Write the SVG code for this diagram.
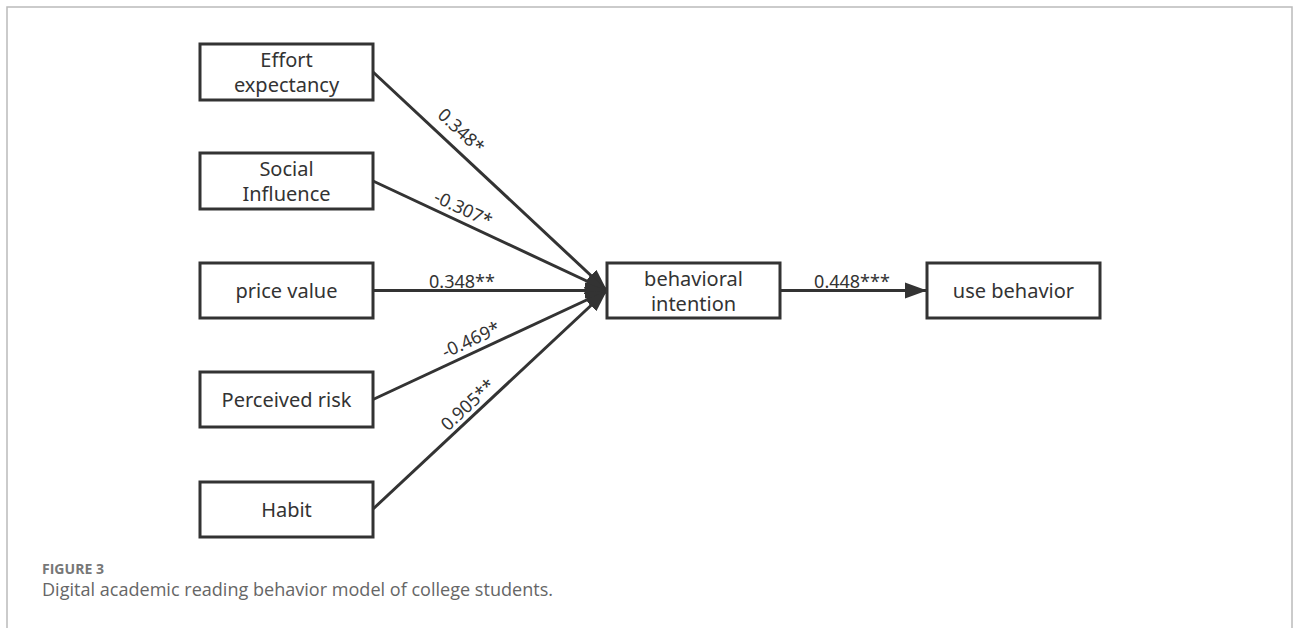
<svg xmlns="http://www.w3.org/2000/svg" width="1293" height="628" viewBox="0 0 1293 628">
<style>
.box{fill:#fff;stroke:#333;stroke-width:3}
.t{font-family:"Noto Sans","Open Sans",sans-serif;font-size:20px;fill:#333;text-anchor:middle}
.lbl{font-family:"Noto Sans","Open Sans",sans-serif;font-size:18px;fill:#333;text-anchor:middle}
.edge{stroke:#333;stroke-width:3;fill:none;marker-end:url(#arr)}
</style>
<defs>
<marker id="arr" markerUnits="userSpaceOnUse" markerWidth="24" markerHeight="18" viewBox="0 0 24 18" refX="22" refY="9" orient="auto">
<path d="M0,1 L22,9 L0,17 Z" fill="#333"/>
</marker>
</defs>
<rect x="7" y="7" width="1285" height="700" fill="none" stroke="#bbb" stroke-width="1.5"/>
<g id="connectors">
<line class="edge" x1="373" y1="72" x2="607" y2="290.5"/>
<line class="edge" x1="373" y1="181" x2="607" y2="290.5"/>
<line class="edge" x1="373" y1="290.5" x2="607" y2="290.5"/>
<line class="edge" x1="373" y1="399.5" x2="607" y2="290.5"/>
<line class="edge" x1="373" y1="509" x2="607" y2="290.5"/>
<line class="edge" x1="780" y1="290.5" x2="927" y2="290.5"/>
<text class="lbl" transform="translate(461,131) rotate(43)" y="6">0.348*</text>
<text class="lbl" transform="translate(463,209) rotate(25)" y="6">-0.307*</text>
<text class="lbl" x="462" y="288">0.348**</text>
<text class="lbl" transform="translate(471,340) rotate(-25)" y="6">-0.469*</text>
<text class="lbl" transform="translate(468,405) rotate(-43)" y="6">0.905**</text>
<text class="lbl" x="852" y="288">0.448***</text>
</g>
<g id="effort">
<rect class="box" x="200" y="44" width="173" height="56"/>
<text class="t" x="286.5" y="67">Effort</text>
<text class="t" x="286.5" y="92">expectancy</text>
</g>
<g id="social">
<rect class="box" x="200" y="153" width="173" height="56"/>
<text class="t" x="286.5" y="176">Social</text>
<text class="t" x="286.5" y="201">Influence</text>
</g>
<g id="price">
<rect class="box" x="200" y="263" width="173" height="55"/>
<text class="t" x="286.5" y="297.5">price value</text>
</g>
<g id="risk">
<rect class="box" x="200" y="372" width="173" height="55"/>
<text class="t" x="286.5" y="406.5">Perceived risk</text>
</g>
<g id="habit">
<rect class="box" x="200" y="482" width="173" height="55"/>
<text class="t" x="286.5" y="516.5">Habit</text>
</g>
<g id="intention">
<rect class="box" x="607" y="263" width="173" height="55"/>
<text class="t" x="693.5" y="286">behavioral</text>
<text class="t" x="693.5" y="311">intention</text>
</g>
<g id="use">
<rect class="box" x="927" y="263" width="173" height="55"/>
<text class="t" x="1013.5" y="297.5">use behavior</text>
</g>
<g id="caption">
<text x="42" y="574" font-family="'Open Sans','Noto Sans',sans-serif" font-size="14" font-weight="bold" fill="#777" textLength="62" lengthAdjust="spacingAndGlyphs">FIGURE 3</text>
<text x="42" y="596" font-family="'Open Sans','Noto Sans',sans-serif" font-size="18" fill="#666" textLength="511" lengthAdjust="spacingAndGlyphs">Digital academic reading behavior model of college students.</text>
</g>
</svg>
